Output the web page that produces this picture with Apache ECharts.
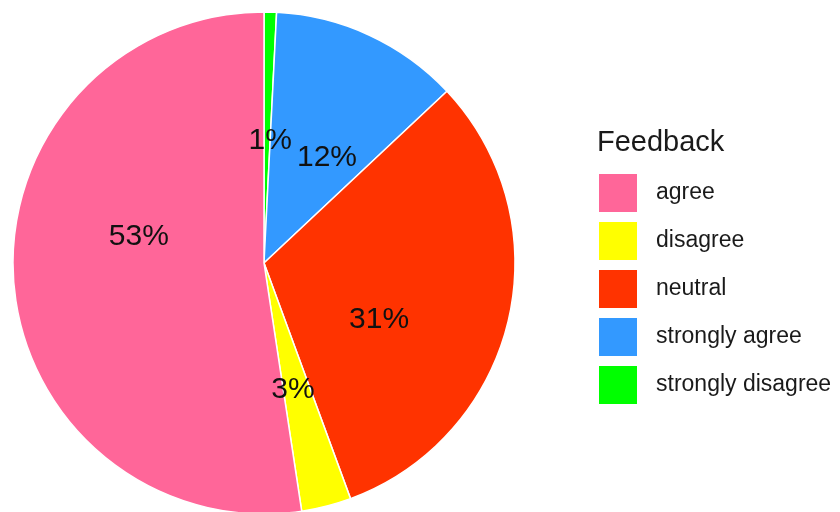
<!DOCTYPE html>
<html>
<head>
<meta charset="utf-8">
<script src="https://cdn.jsdelivr.net/npm/echarts@6/dist/echarts.min.js"></script>
<style>html,body{margin:0;padding:0;background:#fff}#chart{width:840px;height:512px}</style>
</head>
<body>
<div id="chart"></div>
<script>
// Legend / category order
const categories = ["agree", "disagree", "neutral", "strongly agree", "strongly disagree"];
// Share of responses (%) per category, in the same order
const shares = [52.4, 3.2, 31.4, 12.2, 0.8];
// Printed labels
const labels = ["53%", "3%", "31%", "12%", "1%"];
const colors = ["#FF6699", "#FFFF00", "#FF3300", "#3399FF", "#00FF00"];

// Slices are drawn clockwise from 12 o'clock in reverse legend order
const drawOrder = [4, 3, 2, 1, 0];
// label nudges (px) to follow the reference's label placement
const labelNudge = { 0: [3, -36], 1: [-3, 2], 2: [-10, 27], 3: [9, 11], 4: [3, 6] };

const pieData = drawOrder.map(i => ({
  name: categories[i],
  value: shares[i],
  itemStyle: { color: colors[i] },
  label: { formatter: labels[i] }
}));

const chart = echarts.init(document.getElementById('chart'), null, { renderer: 'canvas' });
chart.setOption({
  animation: false,
  backgroundColor: '#ffffff',
  title: {
    text: 'Feedback',
    left: 597,
    top: 128,
    padding: 0,
    textStyle: { fontFamily: 'Liberation Sans, Arial, sans-serif', fontSize: 29, fontWeight: 'normal', color: '#1a1a1a' }
  },
  legend: {
    orient: 'vertical',
    left: 597,
    top: 172,
    padding: 0,
    itemWidth: 40,
    itemHeight: 40,
    itemGap: 6,
    icon: 'rect',
    data: categories,
    selectedMode: false,
    textStyle: { fontFamily: 'Liberation Sans, Arial, sans-serif', fontSize: 23, color: '#1a1a1a', padding: [0, 0, 0, 13] }
  },
  series: [{
    type: 'pie',
    center: [264, 263],
    radius: [0, 251],
    startAngle: 90,
    clockwise: true,
    avoidLabelOverlap: false,
    data: pieData,
    itemStyle: { borderColor: '#ffffff', borderWidth: 1.5 },
    label: {
      show: true,
      position: 'inside',
      fontFamily: 'Liberation Sans, Arial, sans-serif',
      fontSize: 30,
      color: '#111111'
    },
    labelLine: { show: false },
    labelLayout: function (p) {
      const idx = drawOrder[p.dataIndex];
      const n = labelNudge[idx];
      return { dx: n[0], dy: n[1] };
    },
    emphasis: { disabled: true }
  }]
});
</script>
</body>
</html>
